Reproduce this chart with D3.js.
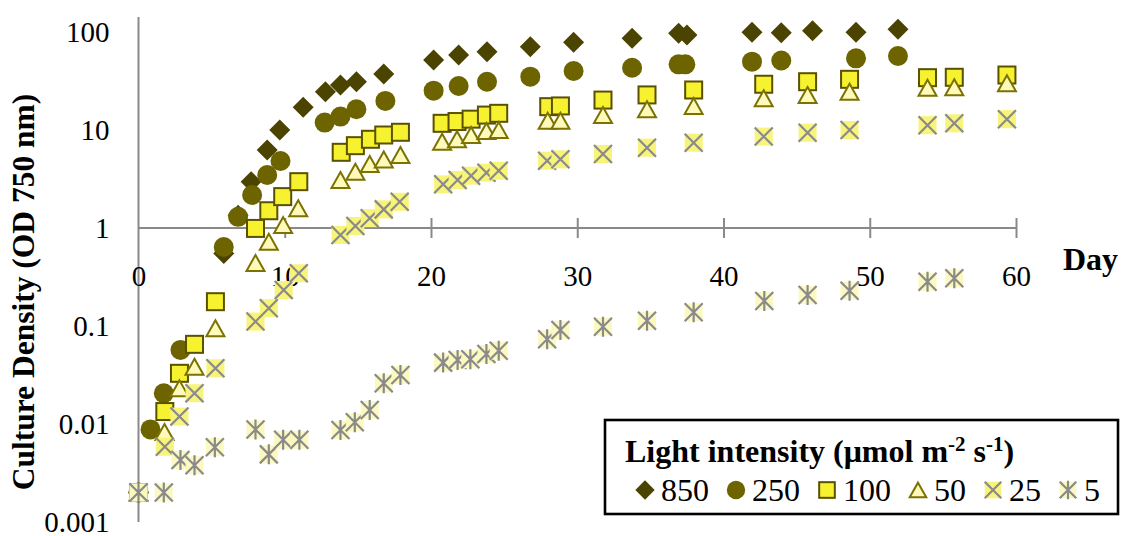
<!DOCTYPE html>
<html>
<head>
<meta charset="utf-8">
<script src="https://cdn.jsdelivr.net/npm/d3@7"></script>
<style>
  html, body { margin: 0; padding: 0; background: #fff; }
  svg { display: block; }
  svg text { font-family: "Liberation Serif", Tinos, "Times New Roman", Times, "Nimbus Roman", "DejaVu Serif", serif !important; fill: #000; }
</style>
</head>
<body>
<svg id="chart" width="1121" height="536"></svg>
<script>
// ---------------- data ----------------
const seriesNames = ["850", "250", "100", "50", "25", "5"];

const days850 = [0, 5.83, 6.81, 7.70, 8.80, 9.66, 11.26, 12.78, 13.81, 14.90, 16.77, 20.18, 21.89, 23.83, 26.79, 29.75, 33.75, 36.93, 37.5, 41.95, 43.95, 46.09, 49.06, 51.93];
const od850   = [0.002, 0.55, 1.35, 2.97, 6.25, 10.0, 17.1, 24.6, 28.8, 31.1, 37.3, 51.8, 58.2, 63, 70.8, 78.5, 86.3, 97, 93.2, 99.3, 98.5, 103, 99.3, 106.6];

const days250 = [0, 0.82, 1.73, 2.87, 5.83, 6.81, 7.77, 8.80, 9.71, 12.73, 13.81, 14.90, 16.88, 20.18, 21.89, 23.83, 26.79, 29.75, 33.75, 36.93, 37.39, 41.95, 43.95, 49.06, 51.93];
const od250   = [0.002, 0.0088, 0.0206, 0.057, 0.64, 1.30, 2.17, 3.47, 4.83, 11.9, 13.7, 16.3, 19.8, 25.2, 28.1, 31.1, 35, 40, 43.2, 46.8, 46.8, 49.8, 51.2, 53.9, 56.9];

const days100 = [0, 1.80, 2.80, 3.83, 5.26, 8.00, 8.91, 9.86, 10.96, 13.86, 14.83, 15.86, 16.77, 17.91, 20.76, 21.78, 22.74, 23.79, 24.63, 28.05, 28.85, 31.76, 34.77, 37.96, 42.75, 45.75, 48.62, 53.95, 55.78, 59.38];
const od100   = [0.002, 0.0134, 0.0329, 0.065, 0.177, 0.99, 1.50, 2.09, 2.97, 5.92, 6.92, 8.04, 8.89, 9.48, 11.7, 12.2, 12.9, 14.2, 14.8, 17.3, 17.6, 20.2, 22.8, 25.6, 29.3, 31.1, 32.9, 34.2, 34.5, 36.4];

const days50 = [0, 1.78, 2.80, 3.83, 5.26, 8.00, 8.91, 9.89, 10.92, 13.81, 14.83, 15.81, 16.77, 17.91, 20.76, 21.78, 22.74, 23.79, 24.63, 27.98, 28.85, 31.76, 34.77, 37.96, 42.75, 45.75, 48.62, 53.95, 55.78, 59.38];
const od50   = [0.002, 0.0083, 0.0231, 0.0384, 0.0948, 0.44, 0.725, 1.07, 1.59, 3.09, 3.75, 4.50, 5.0, 5.56, 7.6, 8.04, 8.89, 9.77, 10.0, 12.4, 12.4, 14.2, 16.3, 17.6, 21.1, 22.8, 24.6, 27, 27.3, 30];

const days25 = [0, 1.80, 2.80, 3.83, 5.26, 8.00, 8.91, 9.93, 10.96, 13.81, 14.83, 15.81, 16.77, 17.86, 20.83, 21.82, 22.74, 23.79, 24.63, 27.94, 28.85, 31.76, 34.77, 37.96, 42.75, 45.75, 48.62, 53.95, 55.78, 59.38];
const od25   = [0.002, 0.00586, 0.0119, 0.0206, 0.037, 0.111, 0.152, 0.233, 0.345, 0.85, 1.05, 1.26, 1.55, 1.85, 2.79, 3.09, 3.42, 3.67, 3.84, 4.86, 5.02, 5.69, 6.6, 7.42, 8.58, 9.38, 10, 11.2, 11.7, 12.9];

const days5 = [0, 1.73, 2.87, 3.83, 5.22, 8.00, 8.91, 9.89, 11.0, 13.81, 14.79, 15.81, 16.77, 17.91, 20.83, 21.82, 22.69, 23.79, 24.63, 27.94, 28.85, 31.76, 34.77, 37.96, 42.79, 45.75, 48.62, 53.95, 55.78];
const od5   = [0.002, 0.002, 0.0043, 0.0038, 0.0058, 0.0088, 0.0049, 0.0069, 0.0069, 0.0087, 0.0104, 0.0139, 0.026, 0.0316, 0.0423, 0.045, 0.0457, 0.0518, 0.056, 0.0732, 0.091, 0.0984, 0.113, 0.138, 0.18, 0.207, 0.229, 0.283, 0.307];

const xTicks = [0, 10, 20, 30, 40, 50, 60];
const yTicks = [0.001, 0.01, 0.1, 1, 10, 100];
const yTickLabels = ["0.001", "0.01", "0.1", "1", "10", "100"];

const yTitle = "Culture Density (OD 750 nm)";
const xTitle = "Day";

// ---------------- layout ----------------
const FONT = '"Liberation Serif", Tinos, "Times New Roman", Times, "Nimbus Roman", "DejaVu Serif", serif';
const svg = d3.select("#chart");
const x = d3.scaleLinear().domain([0, 60]).range([138.5, 1016]);
const y = d3.scaleLog().domain([0.001, 100]).range([522, 32]);
const axisColor = "#898989";

// marker drawers
const markers = {
  diamond: (g, s) => g.append("path")
      .attr("d", `M0,${-10.5*s}L${10.5*s},0L0,${10.5*s}L${-10.5*s},0Z`)
      .attr("fill", "#4b4300"),
  circle: (g, s) => g.append("circle").attr("r", 10*s).attr("fill", "#6d6400"),
  square: (g, s) => g.append("rect")
      .attr("x", -8.5*s).attr("y", -8.5*s).attr("width", 17*s).attr("height", 17*s)
      .attr("fill", "#f7f230").attr("stroke", "#5a5100").attr("stroke-width", 2),
  triangle: (g, s) => g.append("path")
      .attr("d", `M0,${-8*s}L${9*s},${8*s}L${-9*s},${8*s}Z`)
      .attr("fill", "#fffab9").attr("stroke", "#7b7200").attr("stroke-width", 2)
      .attr("stroke-linejoin", "miter"),
  xmark: (g, s) => {
    g.append("rect").attr("x", -9*s).attr("y", -9*s).attr("width", 18*s).attr("height", 18*s)
      .attr("fill", "#f8f47a");
    g.append("path").attr("d", `M${-9*s},${-9*s}L${9*s},${9*s}M${9*s},${-9*s}L${-9*s},${9*s}`)
      .attr("stroke", "#8a8a8a").attr("stroke-width", 2.2).attr("fill", "none");
  },
  star: (g, s) => {
    g.append("rect").attr("x", -9*s).attr("y", -9*s).attr("width", 18*s).attr("height", 18*s)
      .attr("fill", "#fcf9c0");
    g.append("path").attr("d", `M${-9*s},${-9*s}L${9*s},${9*s}M${9*s},${-9*s}L${-9*s},${9*s}M0,${-10*s}L0,${10*s}`)
      .attr("stroke", "#8a8a8a").attr("stroke-width", 2.2).attr("fill", "none");
  }
};

const series = [
  { name: seriesNames[0], days: days850, od: od850, marker: "diamond" },
  { name: seriesNames[1], days: days250, od: od250, marker: "circle" },
  { name: seriesNames[2], days: days100, od: od100, marker: "square" },
  { name: seriesNames[3], days: days50,  od: od50,  marker: "triangle" },
  { name: seriesNames[4], days: days25,  od: od25,  marker: "xmark" },
  { name: seriesNames[5], days: days5,   od: od5,   marker: "star" }
];

// ---------------- axes ----------------
svg.append("line")
  .attr("x1", x(0)).attr("x2", x(0))
  .attr("y1", y(0.001)).attr("y2", y(100) - 15)
  .attr("stroke", axisColor).attr("stroke-width", 2);

const yAxis = svg.append("g").attr("transform", `translate(${x(0) - 29},0)`)
  .call(d3.axisLeft(y).tickValues(yTicks).tickSize(0).tickPadding(0)
        .tickFormat((d, i) => yTickLabels[i]));
yAxis.attr("font-family", FONT);
yAxis.select(".domain").remove();
yAxis.selectAll("text")
  .style("font-family", FONT)
  .attr("font-size", 29).attr("fill", "#000").attr("dy", "0.33em");

const xAxis = svg.append("g").attr("transform", `translate(0,${y(1)})`)
  .call(d3.axisBottom(x).tickValues(xTicks).tickSize(10).tickPadding(0));
xAxis.attr("font-family", FONT);
xAxis.select(".domain").attr("stroke", axisColor).attr("stroke-width", 2)
  .attr("d", `M${x(0)},0H${x(60)}`);
xAxis.selectAll(".tick line").attr("y1", -10).attr("y2", 10)
  .attr("stroke", axisColor).attr("stroke-width", 2);
xAxis.selectAll(".tick").filter(d => d === 0).select("line").remove();
xAxis.selectAll("text")
  .style("font-family", FONT)
  .attr("font-size", 29).attr("fill", "#000")
  .attr("y", 58).attr("dy", 0);

// ---------------- points ----------------
series.forEach(s => {
  const g = svg.append("g");
  s.days.forEach((d, i) => {
    const m = g.append("g").attr("transform", `translate(${x(d)},${y(s.od[i])})`);
    markers[s.marker](m, 1);
  });
});

// ---------------- titles ----------------
svg.append("text")
  .attr("transform", `translate(34,292) rotate(-90)`)
  .attr("text-anchor", "middle")
  .style("font-family", FONT)
  .attr("font-size", 31.5).attr("font-weight", "bold")
  .text(yTitle);

svg.append("text")
  .attr("x", 1063).attr("y", 270)
  .style("font-family", FONT)
  .attr("font-size", 32).attr("font-weight", "bold")
  .text(xTitle);

// ---------------- legend ----------------
const legend = svg.append("g");
legend.append("rect")
  .attr("x", 605).attr("y", 420).attr("width", 513).attr("height", 94)
  .attr("fill", "#fff").attr("stroke", "#000").attr("stroke-width", 2.6);

const lt = legend.append("text").attr("x", 625).attr("y", 462)
  .style("font-family", FONT)
  .attr("font-size", 32).attr("font-weight", "bold");
lt.append("tspan").text("Light intensity (μmol m");
lt.append("tspan").attr("font-size", 21).attr("dy", -11).text("-2");
lt.append("tspan").attr("dy", 11).text(" s");
lt.append("tspan").attr("font-size", 21).attr("dy", -11).text("-1");
lt.append("tspan").attr("dy", 11).text(")");

let cx = 645;
series.forEach(s => {
  const m = legend.append("g").attr("transform", `translate(${cx},490)`);
  markers[s.marker](m, 0.92);
  const t = legend.append("text").attr("x", cx + 16).attr("y", 501)
    .style("font-family", FONT)
    .attr("font-size", 32).text(s.name);
  const w = t.node().getComputedTextLength();
  cx = cx + 16 + w + 27;
});
</script>
</body>
</html>
